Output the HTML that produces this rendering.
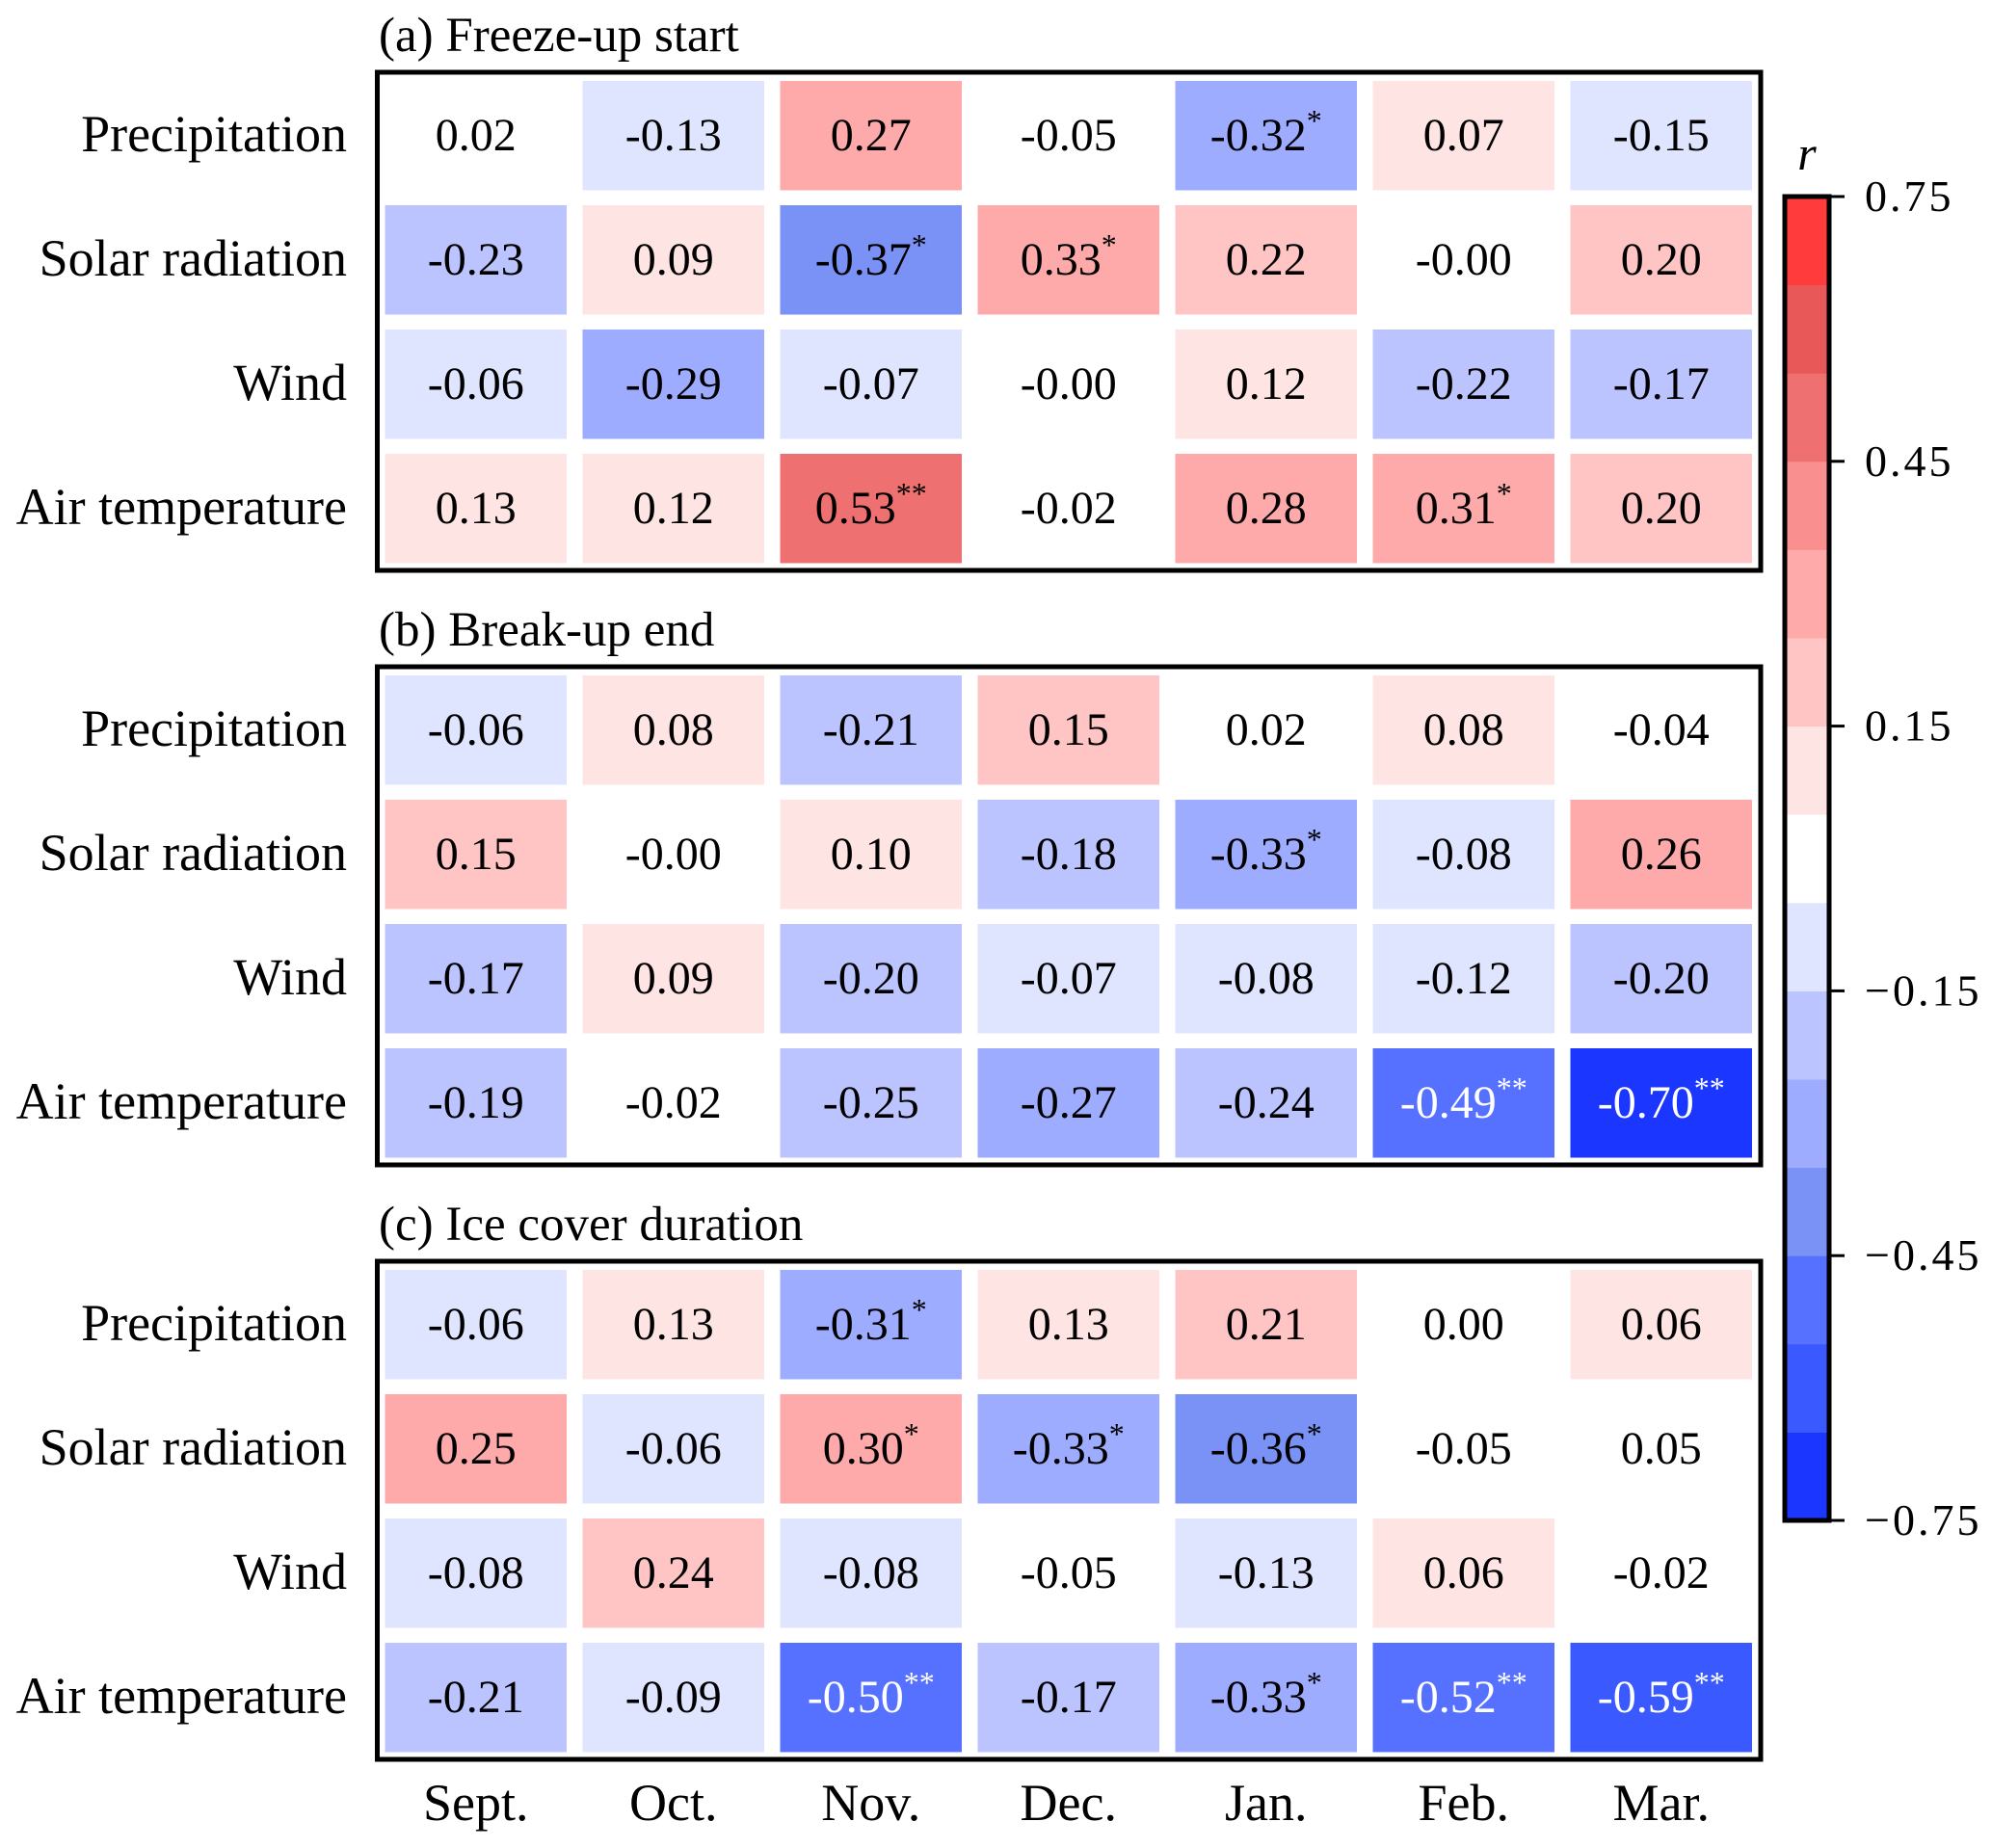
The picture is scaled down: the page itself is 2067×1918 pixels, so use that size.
<!DOCTYPE html>
<html><head><meta charset="utf-8">
<style>
html,body{margin:0;padding:0;background:#fff;}
svg{display:block;font-family:"Liberation Serif",serif;}
</style></head>
<body>
<svg id="chart" width="2067" height="1918" viewBox="0 0 2067 1918" xmlns="http://www.w3.org/2000/svg"></svg>
<script>
const months = ["Sept.","Oct.","Nov.","Dec.","Jan.","Feb.","Mar."];
const variables = ["Precipitation","Solar radiation","Wind","Air temperature"];
const panelTitles = ["(a) Freeze-up start","(b) Break-up end","(c) Ice cover duration"];
const valuesA = [
  [0.02,-0.13,0.27,-0.05,-0.32,0.07,-0.15],
  [-0.23,0.09,-0.37,0.33,0.22,-0.00,0.20],
  [-0.06,-0.29,-0.07,-0.00,0.12,-0.22,-0.17],
  [0.13,0.12,0.53,-0.02,0.28,0.31,0.20]];
const sigA = [
  ["","","","","*","",""],
  ["","","*","*","","",""],
  ["","","","","","",""],
  ["","","**","","","*",""]];
const valuesB = [
  [-0.06,0.08,-0.21,0.15,0.02,0.08,-0.04],
  [0.15,-0.00,0.10,-0.18,-0.33,-0.08,0.26],
  [-0.17,0.09,-0.20,-0.07,-0.08,-0.12,-0.20],
  [-0.19,-0.02,-0.25,-0.27,-0.24,-0.49,-0.70]];
const sigB = [
  ["","","","","","",""],
  ["","","","","*","",""],
  ["","","","","","",""],
  ["","","","","","**","**"]];
const valuesC = [
  [-0.06,0.13,-0.31,0.13,0.21,0.00,0.06],
  [0.25,-0.06,0.30,-0.33,-0.36,-0.05,0.05],
  [-0.08,0.24,-0.08,-0.05,-0.13,0.06,-0.02],
  [-0.21,-0.09,-0.50,-0.17,-0.33,-0.52,-0.59]];
const sigC = [
  ["","","*","","","",""],
  ["","","*","*","*","",""],
  ["","","","","","",""],
  ["","","**","","*","**","**"]];
const cbarTicks = [0.75,0.45,0.15,-0.15,-0.45,-0.75];
const cbarTickLabels = ["0.75","0.45","0.15","\u22120.15","\u22120.45","\u22120.75"];

const palette = ["#1a36ff","#3a5aff","#5670ff","#7a92f5","#9eacff","#bcc4ff","#dfe5ff","#ffffff",
  "#ffe4e4","#ffc4c4","#ffaaaa","#fa8f8f","#ee7070","#e85858","#ff3b3b"];
const vmin=-0.75, vmax=0.75;
function colorFor(v){let i=Math.floor((v-vmin)/0.1+1e-6);if(v>0.0499&&v<0.0501)i=7;i=Math.max(0,Math.min(14,i));return palette[i];}
function fmt(v){if(Object.is(v,-0))return "-0.00";return v.toFixed(2);}

const NS="http://www.w3.org/2000/svg";
const svg=document.getElementById('chart');
function mk(tag,attrs,parent){const e=document.createElementNS(NS,tag);for(const k in attrs)e.setAttribute(k,attrs[k]);(parent||svg).appendChild(e);return e;}

const colX0=399.5, colPitch=205, cellW=188.5;
const rowPitch=129, cellH=113.5;
const panelTops=[75,692,1309];
const xCol=i=>colX0+i*colPitch;
const yRow=(p,r)=>panelTops[p]+9+r*rowPitch;

const panels=[[valuesA,sigA],[valuesB,sigB],[valuesC,sigC]];
panels.forEach(([vals,sig],p)=>{
  const g=mk('g',{});
  
  
  const t=mk('text',{x:393,y:panelTops[p]-22,'font-size':51,fill:'#000'},g);
  
  
  t.textContent=panelTitles[p];
  vals.forEach((row,r)=>{
    const lab=mk('text',{x:360,y:yRow(p,r)+cellH/2+16,'font-size':54,'text-anchor':'end',fill:'#000'},g);
    
    
    lab.textContent=variables[r];
    row.forEach((v,c)=>{
      const rect=mk('rect',{x:xCol(c),y:yRow(p,r),width:cellW,height:cellH,fill:colorFor(v)},g);
      
      
      const col=v<=-0.45?'#fff':'#000';
      const cx=xCol(c)+cellW/2, cy=yRow(p,r)+cellH/2+15;
      const s=sig[r][c];
      const tx=mk('text',{x:cx,y:cy,'font-size':48,'text-anchor':'middle',fill:col},g);
      
      
      const n=mk('tspan',{},tx);
      n.textContent=fmt(v);
      if(s){
        const st=mk('tspan',{dy:-20,'font-size':32},tx);
        
        
        st.textContent=s;
      }
    });
  });
  const box=mk('rect',{x:391.5,y:panelTops[p],width:1435.5,height:517,fill:'none',stroke:'#000','stroke-width':5},g);
  
  
});

months.forEach((m,i)=>{
  const t=mk('text',{x:xCol(i)+cellW/2,y:1889,'font-size':54,'text-anchor':'middle',fill:'#000'});
  
  
  t.textContent=m;
});

const cbX=1852, cbW=46, cbTop=204, cbBot=1578;
const yCb=v=>cbTop+(vmax-v)/(vmax-vmin)*(cbBot-cbTop);
const cb=mk('g',{});


palette.forEach((c,i)=>{
  const lo=vmin+i*0.1, hi=lo+0.1;
  const r=mk('rect',{x:cbX,y:yCb(hi),width:cbW,height:yCb(lo)-yCb(hi)+0.5,fill:c},cb);
  
  
});
const cbf=mk('rect',{x:cbX,y:cbTop,width:cbW,height:cbBot-cbTop,fill:'none',stroke:'#000','stroke-width':5},cb);


cbarTicks.forEach((v,i)=>{
  const l=mk('line',{x1:cbX+cbW,x2:cbX+cbW+16,y1:yCb(v),y2:yCb(v),stroke:'#000','stroke-width':3},cb);
  
  
  const t=mk('text',{x:1935,y:yCb(v)+15,'font-size':46,fill:'#000','letter-spacing':3},cb);
  
  
  t.textContent=cbarTickLabels[i];
});
const rt=mk('text',{x:1875,y:176,'font-size':50,'font-style':'italic','text-anchor':'middle',fill:'#000'},cb);


rt.textContent='r';
</script>
</body></html>
